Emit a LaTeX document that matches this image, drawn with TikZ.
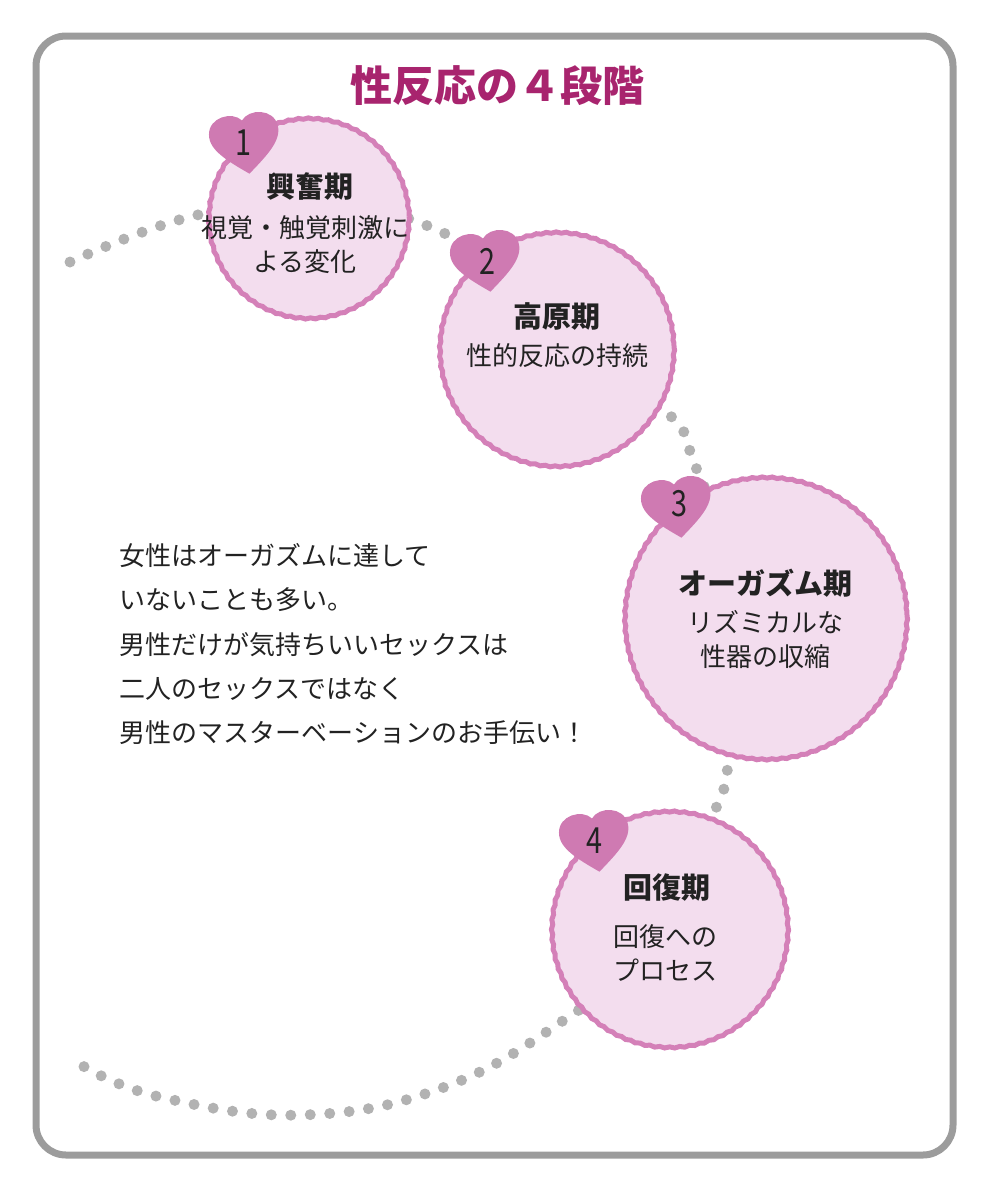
\documentclass[tikz,border=0pt]{standalone}
\usepackage{fontspec}
\setmainfont{Noto Sans CJK JP}
\usetikzlibrary{decorations.pathmorphing}
\definecolor{framegray}{HTML}{9C9C9C}
\definecolor{dotgray}{HTML}{B2B2B2}
\definecolor{ringpink}{HTML}{D480B8}
\definecolor{fillpink}{HTML}{F3DDEE}
\definecolor{heartpink}{HTML}{CF7AB2}
\definecolor{titlemag}{HTML}{A8246E}
\definecolor{inkdark}{HTML}{222222}
\tikzset{
  heart/.pic={
    \begin{scope}[rotate=#1, x=34pt, y=32pt]
    \fill[heartpink] (0,-1) .. controls (-0.6,-0.5) and (-1.08,-0.1) .. (-1.02,0.38)
      .. controls (-0.96,0.92) and (-0.25,1.02) .. (0,0.68)
      .. controls (0.25,1.02) and (0.96,0.92) .. (1.02,0.38)
      .. controls (1.08,-0.1) and (0.6,-0.5) .. (0,-1) -- cycle;
    \end{scope}
  }
}
\begin{document}
\begin{tikzpicture}[x=1pt, y=-1pt,
  frame/.style={draw=framegray, line width=7pt, rounded corners=30pt},
  dots/.style={dotgray, line width=11pt, line cap=round, dash pattern=on 0pt off 19.5pt},
  ring/.style={draw=ringpink, fill=fillpink, line width=5pt,
    decorate, decoration={snake, amplitude=0.6pt, segment length=10pt}},
  head/.style={text=inkdark, font=\fontsize{29}{32}\selectfont\bfseries},
  sub/.style={text=inkdark, font=\fontsize{26}{34}\selectfont, align=center},
  num/.style={text=inkdark, font=\fontsize{36}{36}\selectfont, xscale=0.8},
  body/.style={text=inkdark, font=\fontsize{26}{44.3}\selectfont, align=left, anchor=north west}]
\useasboundingbox (0,0) rectangle (991,1186);

% 枠
\draw[frame] (36,36) rectangle (953,1155);

% タイトル
\node[text=titlemag, font=\fontsize{42}{44}\selectfont\bfseries] (title) at (497,86) {性反応の４段階};

% 点線の流れ
\draw[dots] plot[smooth, tension=0.7] coordinates {(70,262) (186,218) (310,200) (448,235)
  (560,320) (667,412) (695,465) (745,610) (728,765) (718,803) (660,940) (567,1018)
  (442,1088) (301,1115) (160,1097) (83,1066)};

% 4つの円
\coordinate (c1) at (309,216);
\coordinate (c2) at (557,347);
\coordinate (c3) at (766,616);
\coordinate (c4) at (670,927);
\draw[ring] (c1) circle (100);
\draw[ring] (c2) circle (117);
\draw[ring] (c3) circle (141);
\draw[ring] (c4) circle (118);

% ハートと番号
\pic at (245,142) {heart=8};
\pic at (486,260) {heart=8};
\pic at (677,506) {heart=8};
\pic at (595,840) {heart=8};
\node[num] (n1) at (243,143) {1};
\node[num] (n2) at (487,261) {2};
\node[num] (n3) at (679,504) {3};
\node[num] (n4) at (594,841) {4};

% 各段階
\node[head] (h1) at (310,187) {興奮期};
\node[sub] (s1) at (305,245) {視覚・触覚刺激に\\よる変化};
\node[head] (h2) at (557,316) {高原期};
\node[sub] (s2) at (557,356) {性的反応の持続};
\node[head] (h3) at (765,583) {オーガズム期};
\node[sub] (s3) at (765,640) {リズミカルな\\性器の収縮};
\node[head] (h4) at (667,888) {回復期};
\node[sub] (s4) at (665,953) {回復への\\プロセス};

% 説明文
\node[body] (note) at (116,540) {女性はオーガズムに達して\\いないことも多い。\\男性だけが気持ちいいセックスは\\二人のセックスではなく\\男性のマスターベーションのお手伝い！};
\end{tikzpicture}
\end{document}
